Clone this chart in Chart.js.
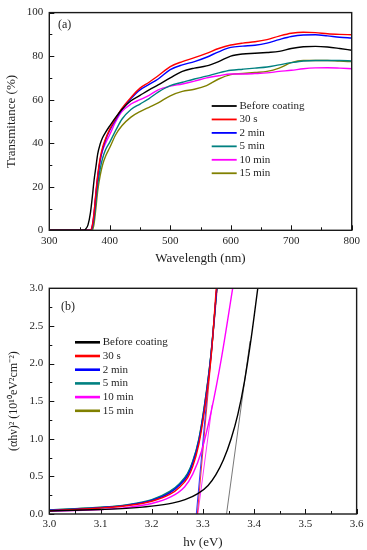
<!DOCTYPE html>
<html><head><meta charset="utf-8">
<script src="https://cdn.jsdelivr.net/npm/chart.js@4.4.1/dist/chart.umd.min.js"></script>
<style>
html,body{margin:0;padding:0;background:#fff;}
#wrap{position:relative;width:367px;height:550px;overflow:hidden;}
.c{position:absolute;left:0;width:367px;height:275px;}
</style></head><body>
<div id="wrap">
<div class="c" style="top:0"><canvas id="ca" width="367" height="275"></canvas></div>
<div class="c" style="top:275px"><canvas id="cb" width="367" height="275"></canvas></div>
</div>
<script>
// ---------- shared ----------
const seriesNames = ['Before coating', '30 s', '2 min', '5 min', '10 min', '15 min'];

// ---------- panel (a): transmittance ----------
const wavelength = [300, 355, 360, 364, 368, 371, 374, 377, 380, 384, 388, 393, 400, 410, 420, 435, 450, 465, 480, 500, 520, 540, 560, 580, 600, 620, 640, 660, 680, 700, 720, 740, 760, 780, 800];
const tBefore = [0, 0, 0.5, 2.5, 8, 15, 23, 29, 35, 39.5, 42.5, 45, 48, 52, 55.5, 59.5, 62, 64.5, 66.8, 70, 73, 74.5, 75.5, 77.5, 80, 81, 81.3, 81.7, 82.2, 83.5, 84.3, 84.5, 84.2, 83.5, 82.7];
const t30s    = [0, 0, 0, 0, 0, 2, 8, 17, 25, 33, 38, 42, 46.5, 51.5, 56, 61, 65.3, 68, 71, 75.2, 77.5, 79.3, 81.3, 83.5, 85.1, 86, 86.6, 87.6, 89.2, 90.5, 91, 90.8, 90.3, 90, 89.8];
const t2min   = [0, 0, 0, 0, 0, 1.5, 7, 16, 24, 32, 37, 41.5, 46, 51, 55.5, 60.5, 64.5, 67, 69.5, 73.8, 76, 77.5, 79.5, 82, 84, 84.6, 85, 86, 87.6, 89, 89.7, 89.8, 89.3, 88.7, 88.3];
const t5min   = [0, 0, 0, 0, 0, 1, 5.5, 13, 21, 28, 33, 37, 40.5, 46, 51, 55.5, 58, 60.5, 63.5, 66.5, 68, 69.5, 70.8, 72.3, 73.5, 74, 74.5, 75, 76, 77, 77.8, 78, 78, 78, 77.8];
const t10min  = [0, 0, 0, 0, 0, 2, 8, 17, 25, 32, 36.5, 40, 44, 50, 54.5, 58, 60, 62, 64.5, 66.2, 67.2, 68.5, 70, 71, 71.8, 71.8, 72, 72.3, 73, 73.5, 74.2, 74.6, 74.7, 74.5, 74.2];
const t15min  = [0, 0, 0, 0, 0, 0, 3, 10, 18, 25, 30, 34, 38, 44, 48, 52, 54.5, 56.5, 58.5, 61.8, 63.8, 64.8, 66.5, 69.5, 71.5, 72, 72.5, 73, 74.5, 77, 78, 78, 78, 77.7, 77.5];
const aXTicks = [300, 400, 500, 600, 700, 800];
const aXMinor = [350, 450, 550, 650, 750];
const aYTicks = [0, 20, 40, 60, 80, 100];
const aYMinor = [10, 30, 50, 70, 90];

// ---------- panel (b): Tauc plot ----------
const eFast   = [3.00, 3.05, 3.10, 3.15, 3.20, 3.235, 3.255, 3.27, 3.28, 3.292, 3.303, 3.316, 3.327];
const eRed    = [3.00, 3.05, 3.10, 3.15, 3.20, 3.235, 3.255, 3.27, 3.28, 3.292, 3.303, 3.316, 3.326];
const vRedB   = [0.045, 0.06, 0.08, 0.11, 0.17, 0.26, 0.36, 0.48, 0.63, 0.93, 1.38, 2.1, 3.0];
const vBlueB  = [0.05, 0.065, 0.085, 0.115, 0.18, 0.28, 0.39, 0.51, 0.67, 0.97, 1.42, 2.13, 3.0];
const vTealB  = [0.055, 0.07, 0.09, 0.12, 0.19, 0.30, 0.41, 0.54, 0.70, 1.0, 1.45, 2.15, 3.0];
const vOliveB = [0.05, 0.068, 0.088, 0.118, 0.185, 0.29, 0.40, 0.53, 0.69, 0.99, 1.44, 2.14, 3.0];
const eBefore = [3.00, 3.05, 3.10, 3.15, 3.20, 3.24, 3.265, 3.29, 3.31, 3.325, 3.34, 3.355, 3.368, 3.381, 3.394, 3.407];
const vBefore = [0.04, 0.05, 0.06, 0.075, 0.105, 0.145, 0.19, 0.27, 0.38, 0.52, 0.72, 1.0, 1.32, 1.76, 2.33, 3.0];
const eMag    = [3.00, 3.05, 3.10, 3.15, 3.20, 3.235, 3.264, 3.28, 3.297, 3.316, 3.336, 3.358];
const vMag    = [0.035, 0.045, 0.06, 0.085, 0.14, 0.22, 0.36, 0.53, 0.83, 1.36, 2.07, 3.0];
// linear fits (Tauc extrapolation lines)
const fitBeforeE = [3.346, 3.392], fitBeforeV = [0, 2.3];
const fitBlueE   = [3.287, 3.327], fitBlueV   = [0, 3.0];
const fitRedE    = [3.289, 3.328], fitRedV    = [0, 3.0];
const fitMagE    = [3.290, 3.318], fitMagV    = [0, 1.45];
const bXTicks = [3.0, 3.1, 3.2, 3.3, 3.4, 3.5, 3.6];
const bXMinor = [3.05, 3.15, 3.25, 3.35, 3.45, 3.55];
const bYTicks = [0, 0.5, 1.0, 1.5, 2.0, 2.5, 3.0];
const bYMinor = [0.25, 0.75, 1.25, 1.75, 2.25, 2.75];

// ---------- styling ----------
const colors = ['#000000', '#ff0000', '#0000ff', '#008080', '#ff00ff', '#808000'];
const FONT = '"Liberation Serif", "Times New Roman", serif';
const TXT = '#1e1e1e';

const pts = (xs, ys) => xs.map((x, i) => ({x: x, y: ys[i]}));

function curve(label, data, color, w) {
  return {label, data, borderColor: color, backgroundColor: color, borderWidth: w,
    pointRadius: 0, fill: false, cubicInterpolationMode: 'monotone', inLegend: true};
}
function fitLine(data, color) {
  return {label: '', data, borderColor: color, borderWidth: 0.8, pointRadius: 0, fill: false, inLegend: false};
}

function framePlugin(cfg) {
  return {
    id: 'frame',
    afterDraw(chart) {
      const {ctx, chartArea: a, scales: {x, y}} = chart;
      ctx.save();
      ctx.strokeStyle = '#111';
      ctx.lineWidth = 1;
      const seg = (x1, y1, x2, y2) => { ctx.beginPath(); ctx.moveTo(x1, y1); ctx.lineTo(x2, y2); ctx.stroke(); };
      cfg.xMajor.forEach(v => { const p = Math.round(x.getPixelForValue(v)) + 0.5; seg(p, a.bottom, p, a.bottom - 5); });
      cfg.xMinor.forEach(v => { const p = Math.round(x.getPixelForValue(v)) + 0.5; seg(p, a.bottom, p, a.bottom - 3); });
      cfg.yMajor.forEach(v => { const p = Math.round(y.getPixelForValue(v)) + 0.5; seg(a.left, p, a.left + 5, p); });
      cfg.yMinor.forEach(v => { const p = Math.round(y.getPixelForValue(v)) + 0.5; seg(a.left, p, a.left + 3, p); });
      ctx.lineWidth = 1.4;
      ctx.strokeStyle = '#1a1a1a';
      ctx.strokeRect(a.left, a.top, a.right - a.left, a.bottom - a.top);
      ctx.font = '11px ' + FONT;
      ctx.textBaseline = 'middle';
      ctx.textAlign = 'left';
      const items = chart.data.datasets.filter(d => d.inLegend);
      items.forEach((d, i) => {
        const yy = cfg.legY + i * cfg.legDY;
        ctx.strokeStyle = d.borderColor;
        ctx.lineWidth = cfg.legW;
        seg(cfg.legX1, yy, cfg.legX2, yy);
        ctx.fillStyle = TXT;
        ctx.fillText(d.label, cfg.legTX, yy);
      });
      ctx.font = '12px ' + FONT;
      ctx.fillStyle = TXT;
      ctx.fillText(cfg.panel, cfg.panelX, cfg.panelY);
      ctx.restore();
    }
  };
}

function axis(min, max, ticks, fmt, titleText, titleSize, pad, tPad, fitKey, fitVal) {
  return {
    type: 'linear', min, max,
    afterBuildTicks: s => { s.ticks = ticks.map(v => ({value: v})); },
    afterFit: s => { s[fitKey] = fitVal; },
    grid: {display: false, drawTicks: false},
    border: {display: false},
    ticks: {padding: pad, color: TXT, font: {family: FONT, size: 11}, maxRotation: 0, autoSkip: false, callback: fmt},
    title: {display: true, text: titleText, color: TXT, font: {family: FONT, size: titleSize}, padding: tPad}
  };
}

// ---------- chart (a) ----------
new Chart(document.getElementById('ca'), {
  type: 'line',
  data: {
    datasets: [
      curve(seriesNames[0], pts(wavelength, tBefore), colors[0], 1.4),
      curve(seriesNames[1], pts(wavelength, t30s), colors[1], 1.4),
      curve(seriesNames[2], pts(wavelength, t2min), colors[2], 1.4),
      curve(seriesNames[3], pts(wavelength, t5min), colors[3], 1.4),
      curve(seriesNames[4], pts(wavelength, t10min), colors[4], 1.4),
      curve(seriesNames[5], pts(wavelength, t15min), colors[5], 1.4)
    ]
  },
  options: {
    responsive: false, animation: false, devicePixelRatio: 1,
    layout: {padding: {left: 0, right: 15.3, top: 8.3, bottom: 0}},
    plugins: {legend: {display: false}, tooltip: {enabled: false}},
    scales: {
      x: axis(300, 800, aXTicks, v => String(v), 'Wavelength (nm)', 13, 4, {top: 0, bottom: 9}, 'height', 44.7),
      y: axis(0, 100, aYTicks, v => String(v), 'Transmitance (%)', 13, 6, {top: 4, bottom: 0}, 'width', 49.3)
    }
  },
  plugins: [framePlugin({xMajor: aXTicks, xMinor: aXMinor, yMajor: aYTicks, yMinor: aYMinor,
    legX1: 211.7, legX2: 236.7, legTX: 239.5, legY: 106, legDY: 13.45, legW: 1.8,
    panel: '(a)', panelX: 58, panelY: 25})]
});

// ---------- chart (b) ----------
new Chart(document.getElementById('cb'), {
  type: 'line',
  data: {
    datasets: [
      curve(seriesNames[0], pts(eBefore, vBefore), colors[0], 1.4),
      curve(seriesNames[1], pts(eRed, vRedB), colors[1], 1.4),
      curve(seriesNames[2], pts(eFast, vBlueB), colors[2], 1.4),
      curve(seriesNames[3], pts(eFast, vTealB), colors[3], 1.4),
      curve(seriesNames[4], pts(eMag, vMag), colors[4], 1.4),
      curve(seriesNames[5], pts(eFast, vOliveB), colors[5], 1.4),
      fitLine(pts(fitBeforeE, fitBeforeV), '#555555'),
      fitLine(pts(fitBlueE, fitBlueV), colors[2]),
      fitLine(pts(fitRedE, fitRedV), colors[1]),
      fitLine(pts(fitMagE, fitMagV), colors[4])
    ]
  },
  options: {
    responsive: false, animation: false, devicePixelRatio: 1,
    layout: {padding: {left: 0, right: 9.7, top: 13.3, bottom: 0}},
    plugins: {legend: {display: false}, tooltip: {enabled: false}},
    scales: {
      x: axis(3.0, 3.6, bXTicks, v => v.toFixed(1), 'hν (eV)', 13, 3.5, {top: 0, bottom: 0}, 'height', 36),
      y: axis(0, 3.0, bYTicks, v => v.toFixed(1), '(αhν)² (10¹⁰eV²cm⁻²)', 12, 6, {top: 7, bottom: 0}, 'width', 49.3)
    }
  },
  plugins: [framePlugin({xMajor: bXTicks, xMinor: bXMinor, yMajor: bYTicks, yMinor: bYMinor,
    legX1: 75, legX2: 100, legTX: 102.7, legY: 67.3, legDY: 13.7, legW: 2.6,
    panel: '(b)', panelX: 61, panelY: 31.7})]
});
</script>
</body></html>
